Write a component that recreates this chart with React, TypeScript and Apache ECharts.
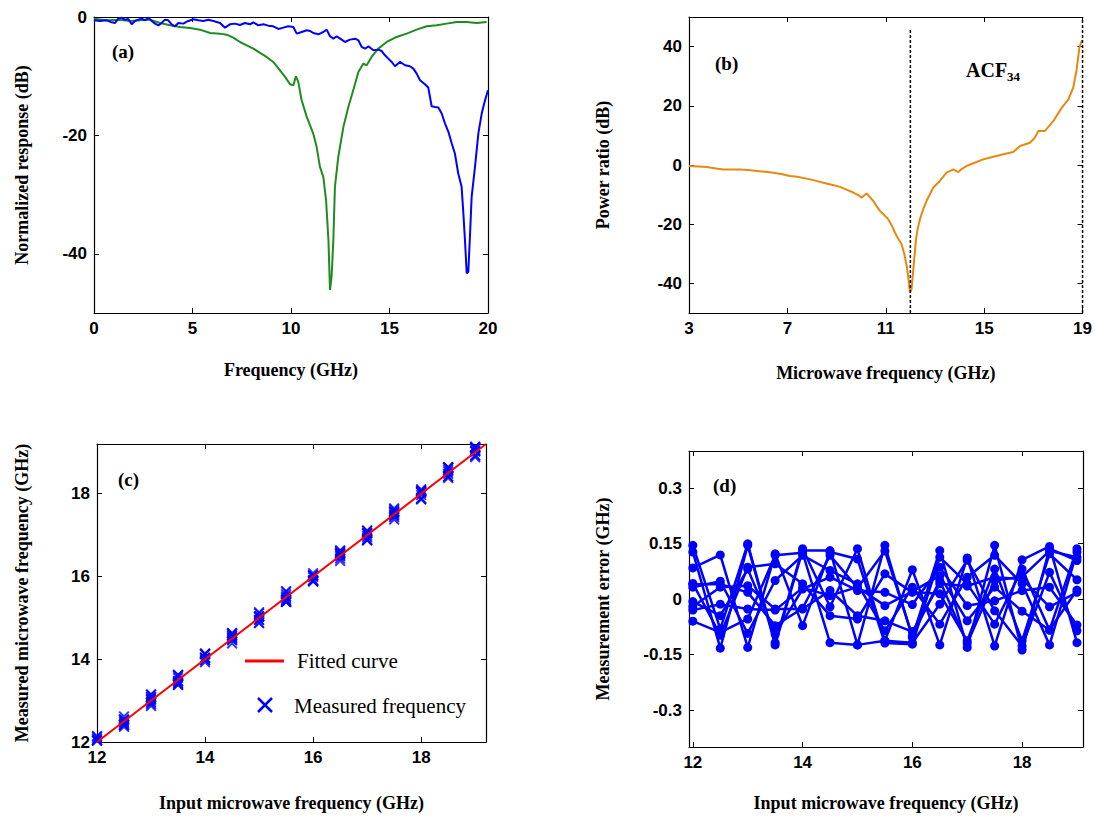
import React, { useEffect, useRef } from "react";
import * as echarts from "echarts";

// ---------- Panel (a): normalized response ----------
const greenResponse: [number, number][] = [
  [0, -0.28], [0.64, -0.56], [1.32, -0.45], [1.83, -0.67], [2.34, -0.56], [2.84, -0.45], [3.35, -1.01],
  [3.86, -1.41], [4.37, -1.69], [4.87, -1.86], [5.38, -2.14], [5.89, -2.7], [6.4, -2.81], [6.73, -2.98],
  [7.07, -3.49], [7.41, -4.22], [7.75, -4.78], [8.09, -5.34], [8.43, -6.07], [8.76, -6.75], [9.1, -7.59],
  [9.44, -9.0], [9.7, -10.12], [9.95, -11.36], [10.12, -11.53], [10.25, -10.01], [10.37, -10.97],
  [10.54, -14.06], [10.8, -16.87], [11.13, -19.69], [11.3, -21.93], [11.47, -25.31], [11.64, -27.0],
  [11.78, -30.93], [11.9, -37.68], [11.98, -46.12], [12.06, -43.87], [12.15, -37.68], [12.23, -28.68],
  [12.4, -23.62], [12.66, -18.56], [12.91, -15.19], [13.16, -12.37], [13.42, -9.28], [13.67, -7.87],
  [13.84, -8.16], [14.09, -6.75], [14.43, -5.34], [14.86, -4.22], [15.36, -3.37], [15.87, -2.81],
  [16.38, -2.14], [16.89, -1.57], [17.39, -1.41], [17.9, -1.12], [18.41, -0.84], [18.92, -0.84],
  [19.42, -1.01], [19.93, -0.84],
];

const blueResponse: [number, number][] = [
  [0, -0.56], [0.3, -0.67], [0.64, -0.56], [0.9, -0.9], [1.07, -1.01], [1.24, -0.28], [1.4, -0.11],
  [1.57, -0.45], [1.74, -0.34], [1.91, -1.24], [2.08, -0.67], [2.25, -0.45], [2.42, -0.28], [2.59, -0.56],
  [2.76, -0.11], [2.93, -0.67], [3.1, -1.12], [3.27, -1.41], [3.43, -1.01], [3.6, -0.45], [3.77, -0.56],
  [3.94, -1.24], [4.11, -1.57], [4.28, -1.01], [4.53, -1.12], [4.79, -0.67], [5.04, -0.39], [5.3, -0.56],
  [5.55, -0.67], [5.8, -0.45], [6.06, -0.67], [6.4, -1.01], [6.65, -1.8], [6.9, -1.24], [7.16, -1.12],
  [7.41, -1.35], [7.66, -1.01], [7.92, -1.24], [8.09, -0.9], [8.34, -1.41], [8.6, -1.24], [8.85, -1.46],
  [9.1, -1.57], [9.36, -2.02], [9.61, -1.8], [9.86, -1.57], [10.12, -1.69], [10.29, -2.81], [10.54, -2.53],
  [10.8, -2.25], [10.96, -2.36], [11.13, -2.7], [11.39, -2.92], [11.64, -2.53], [11.81, -2.14],
  [11.98, -3.26], [12.15, -3.66], [12.32, -3.26], [12.57, -3.82], [12.74, -4.22], [12.99, -3.82],
  [13.25, -3.66], [13.42, -3.94], [13.59, -5.06], [13.76, -5.34], [13.93, -4.95], [14.18, -5.62],
  [14.43, -5.51], [14.6, -5.74], [14.77, -6.47], [14.94, -7.03], [15.11, -7.59], [15.28, -8.32],
  [15.53, -7.59], [15.79, -8.15], [16.04, -8.32], [16.21, -8.72], [16.38, -9.56], [16.55, -10.69],
  [16.8, -11.36], [16.97, -11.92], [17.14, -15.07], [17.31, -15.19], [17.48, -15.3], [17.65, -16.31],
  [17.82, -18.0], [17.99, -19.4], [18.16, -21.37], [18.32, -23.06], [18.49, -26.43], [18.66, -28.68],
  [18.75, -33.18], [18.83, -37.68], [18.92, -43.31], [19.0, -43.03], [19.09, -36.56], [19.17, -30.37],
  [19.34, -25.31], [19.51, -19.69], [19.68, -16.31], [19.85, -14.06], [20.0, -12.37],
];

// ---------- Panel (b): power ratio ----------
const powerRatio: [number, number][] = [
  [3, -0.3], [3.4, -0.5], [3.72, -0.7], [4.1, -1.2], [4.4, -1.5], [4.8, -1.5], [5.07, -1.5], [5.4, -1.7],
  [5.75, -2.0], [6.1, -2.3], [6.43, -2.6], [6.8, -3.1], [7.1, -3.7], [7.4, -4.0], [7.78, -4.6], [8.1, -5.2],
  [8.46, -6.0], [8.8, -6.7], [9.14, -7.4], [9.4, -8.3], [9.68, -9.3], [9.9, -10.3], [10.02, -11.0],
  [10.22, -9.6], [10.35, -10.8], [10.49, -12.1], [10.62, -13.8], [10.76, -15.5], [10.95, -17.0], [11.1, -18.3],
  [11.25, -20.5], [11.37, -22.8], [11.5, -24.8], [11.64, -26.7], [11.75, -30], [11.85, -34], [11.93, -39],
  [11.98, -43], [12.05, -41.9], [12.12, -35.2], [12.23, -25.1], [12.3, -21.5], [12.39, -18.3], [12.52, -15.0],
  [12.66, -12.1], [12.8, -9.8], [12.93, -7.6], [13.2, -5.4], [13.47, -2.6], [13.75, -1.5], [13.95, -2.4],
  [14.1, -1.3], [14.29, -0.3], [14.56, 0.6], [14.96, 1.9], [15.37, 2.8], [15.78, 3.6], [16.18, 4.4],
  [16.46, 6.4], [16.86, 7.5], [17.06, 9.2], [17.2, 11.5], [17.47, 11.5], [17.81, 14.8], [18.15, 19.3],
  [18.42, 22.1], [18.62, 26.1], [18.76, 32.2], [18.87, 39.6], [18.96, 41.8], [19.0, 42.1],
];
const acfMarkerFreqs = [12, 19];
const acfMarkerTops = [46, 50];

// ---------- Panels (c) & (d): measurement ----------
const inputFreqs = [12, 12.5, 13, 13.5, 14, 14.5, 15, 15.5, 16, 16.5, 17, 17.5, 18, 18.5, 19];
const errorRuns: number[][] = [
  [0.145, -0.081, 0.149, -0.118, 0.136, -0.021, 0.136, -0.113, 0.079, -0.124, 0.111, -0.127, 0.106, 0.142, -0.118],
  [0.127, -0.133, 0.145, -0.124, 0.131, 0.131, -0.124, 0.145, -0.104, 0.131, -0.131, 0.145, -0.138, 0.136, 0.104],
  [0.084, 0.119, -0.131, 0.122, -0.072, 0.127, 0.108, -0.119, -0.122, 0.113, 0.041, -0.068, 0.081, -0.084, 0.136],
  [0.042, -0.098, 0.086, 0.095, 0.041, -0.045, -0.054, 0.068, 0.018, 0.014, -0.113, 0.081, -0.113, 0.122, 0.052],
  [0.032, 0.048, -0.093, 0.05, 0.118, 0.077, 0.041, -0.086, 0.032, -0.068, 0.059, 0.118, 0.041, -0.124, 0.127],
  [-0.007, -0.045, 0.081, -0.095, 0.027, 0.059, 0.023, 0.018, -0.015, 0.086, -0.018, -0.005, 0.023, 0.032, -0.07],
  [-0.02, 0.032, 0.036, -0.027, -0.027, 0.023, -0.045, -0.059, -0.088, 0.041, 0.035, 0.059, 0.054, -0.021, 0.018],
  [-0.03, -0.014, -0.027, -0.03, 0.03, 0.009, 0.032, -0.018, 0.02, 0.063, -0.059, 0.032, -0.033, -0.084, 0.024],
  [-0.06, -0.09, -0.054, 0.118, 0.125, -0.118, -0.124, -0.113, -0.118, -0.014, 0.105, -0.032, -0.127, 0.072, -0.086],
  [0.04, 0.04, 0.018, -0.072, -0.025, 0.118, 0.03, 0.13, -0.1, 0.05, -0.12, 0.05, 0.06, 0.13, 0.113],
];
const fittedCurve: [number, number][] = [[12, 12], [19.2, 19.2]];

// ---------- Tick values ----------
const ticksAx = [0, 5, 10, 15, 20];
const ticksAy = [-40, -20, 0];
const ticksBx = [3, 7, 11, 15, 19];
const ticksBy = [-40, -20, 0, 20, 40];
const ticksCx = [12, 14, 16, 18];
const ticksCy = [12, 14, 16, 18];
const ticksDx = [12, 14, 16, 18];
const ticksDy = [-0.3, -0.15, 0, 0.15, 0.3];

const TICK_FONT = {
  fontFamily: "'Liberation Sans', Arial, sans-serif",
  fontWeight: "bold" as const,
  fontSize: 17,
  color: "#000",
};
const TITLE_FONT = {
  fontFamily: "'Liberation Serif', 'Times New Roman', serif",
  fontWeight: "bold" as const,
  fontSize: 18,
  color: "#000",
};
const SERIF = "'Liberation Serif', 'Times New Roman', serif";

function axis(
  kind: "x" | "y",
  gridIndex: number,
  min: number,
  max: number,
  ticks: number[],
  primary: boolean,
  name?: string,
  nameGap?: number,
  showLine = true
) {
  const position = kind === "x" ? (primary ? "bottom" : "top") : primary ? "left" : "right";
  return {
    type: "value",
    gridIndex,
    position,
    min,
    max,
    axisLine: { show: showLine, onZero: false, lineStyle: { color: "#000", width: 1.2 } },
    axisTick: {
      show: true,
      inside: true,
      length: 5,
      customValues: ticks,
      lineStyle: { color: "#000", width: 1 },
    },
    axisLabel: primary
      ? { show: true, customValues: ticks, margin: 7, ...TICK_FONT }
      : { show: false },
    splitLine: { show: false },
    name: primary ? name : undefined,
    nameLocation: "middle",
    nameGap,
    nameTextStyle: TITLE_FONT,
  };
}

export default function App() {
  const ref = useRef<HTMLDivElement>(null);

  useEffect(() => {
    if (!ref.current) return;
    const chart = echarts.init(ref.current, undefined, { renderer: "svg" });

    const scatterPoints: [number, number][] = [];
    errorRuns.forEach((run) =>
      run.forEach((e, i) => scatterPoints.push([inputFreqs[i], inputFreqs[i] + e]))
    );

    const xSymbol =
      "path://M0,1.2 L1.2,0 L5,3.8 L8.8,0 L10,1.2 L6.2,5 L10,8.8 L8.8,10 L5,6.2 L1.2,10 L0,8.8 L3.8,5 Z";

    const option: any = {
      animation: false,
      backgroundColor: "#fff",
      grid: [
        { left: 94, top: 17, width: 394, height: 296 },
        { left: 689, top: 17, width: 394, height: 296 },
        { left: 97, top: 444, width: 389, height: 298 },
        { left: 689, top: 451, width: 394, height: 296 },
      ],
      xAxis: [
        axis("x", 0, 0, 20, ticksAx, true, "Frequency (GHz)", 48),
        axis("x", 0, 0, 20, ticksAx, false),
        axis("x", 1, 3, 19, ticksBx, true, "Microwave frequency (GHz)", 51),
        axis("x", 1, 3, 19, ticksBx, false),
        axis("x", 2, 12, 19.2, ticksCx, true, "Input microwave frequency (GHz)", 52),
        axis("x", 2, 12, 19.2, ticksCx, false),
        axis("x", 3, 11.93, 19.11, ticksDx, true, "Input microwave frequency (GHz)", 47),
        axis("x", 3, 11.93, 19.11, ticksDx, false),
      ],
      yAxis: [
        axis("y", 0, -50, 0, ticksAy, true, "Normalized response (dB)", 63),
        axis("y", 0, -50, 0, ticksAy, false),
        axis("y", 1, -50, 50, ticksBy, true, "Power ratio (dB)", 77),
        axis("y", 1, -50, 50, ticksBy, false, undefined, undefined, false),
        axis("y", 2, 12, 19.2, ticksCy, true, "Measured microwave frequency (GHz)", 66),
        axis("y", 2, 12, 19.2, ticksCy, false),
        axis("y", 3, -0.4, 0.4, ticksDy, true, "Measurement error (GHz)", 77),
        axis("y", 3, -0.4, 0.4, ticksDy, false),
      ],
      series: [
        {
          type: "line",
          xAxisIndex: 0,
          yAxisIndex: 0,
          data: greenResponse,
          showSymbol: false,
          symbol: "none",
          lineStyle: { color: "#1E8C1E", width: 2 },
        },
        {
          type: "line",
          xAxisIndex: 0,
          yAxisIndex: 0,
          data: blueResponse,
          showSymbol: false,
          symbol: "none",
          lineStyle: { color: "#0000FF", width: 2 },
        },
        {
          type: "line",
          xAxisIndex: 2,
          yAxisIndex: 2,
          data: powerRatio,
          showSymbol: false,
          symbol: "none",
          lineStyle: { color: "#E8880F", width: 2 },
        },
        ...acfMarkerFreqs.map((f, i) => ({
          type: "line",
          xAxisIndex: 2,
          yAxisIndex: 2,
          data: [
            [f, -50],
            [f, acfMarkerTops[i]],
          ],
          showSymbol: false,
          symbol: "none",
          lineStyle: { color: "#000", width: 1.5, type: [3, 2] },
        })),
        {
          type: "line",
          xAxisIndex: 4,
          yAxisIndex: 4,
          data: fittedCurve,
          showSymbol: false,
          symbol: "none",
          lineStyle: { color: "#FF0000", width: 2 },
          z: 3,
        },
        {
          type: "scatter",
          xAxisIndex: 4,
          yAxisIndex: 4,
          data: scatterPoints,
          symbol: xSymbol,
          symbolSize: 11,
          itemStyle: { color: "#0000FF" },
          z: 2,
        },
        ...errorRuns.map((run) => ({
          type: "line",
          xAxisIndex: 6,
          yAxisIndex: 6,
          data: run.map((e, i) => [inputFreqs[i], e]),
          symbol: "circle",
          symbolSize: 9,
          showSymbol: true,
          itemStyle: { color: "#0000FF" },
          lineStyle: { color: "#0000FF", width: 2.5 },
        })),
      ],
      graphic: [
        {
          type: "text",
          x: 112,
          y: 51,
          style: { text: "(a)", font: `bold 19px ${SERIF}`, fill: "#000", verticalAlign: "middle" },
        },
        {
          type: "text",
          x: 715,
          y: 63,
          style: { text: "(b)", font: `bold 19px ${SERIF}`, fill: "#000", verticalAlign: "middle" },
        },
        {
          type: "text",
          x: 118,
          y: 479,
          style: { text: "(c)", font: `bold 19px ${SERIF}`, fill: "#000", verticalAlign: "middle" },
        },
        {
          type: "text",
          x: 713,
          y: 485,
          style: { text: "(d)", font: `bold 19px ${SERIF}`, fill: "#000", verticalAlign: "middle" },
        },
        {
          type: "text",
          x: 966,
          y: 70,
          style: { text: "ACF", font: `bold 20px ${SERIF}`, fill: "#000", verticalAlign: "middle" },
        },
        {
          type: "text",
          x: 1007,
          y: 76,
          style: { text: "34", font: `bold 13px ${SERIF}`, fill: "#000", verticalAlign: "middle" },
        },
        {
          type: "line",
          shape: { x1: 245, y1: 661, x2: 284, y2: 661 },
          style: { stroke: "#FF0000", lineWidth: 3 },
        },
        {
          type: "text",
          x: 297,
          y: 661,
          style: { text: "Fitted curve", font: `21px ${SERIF}`, fill: "#000", verticalAlign: "middle" },
        },
        {
          type: "line",
          shape: { x1: 258, y1: 698, x2: 272, y2: 712 },
          style: { stroke: "#0000FF", lineWidth: 2.5 },
        },
        {
          type: "line",
          shape: { x1: 272, y1: 698, x2: 258, y2: 712 },
          style: { stroke: "#0000FF", lineWidth: 2.5 },
        },
        {
          type: "text",
          x: 294,
          y: 706,
          style: { text: "Measured frequency", font: `21px ${SERIF}`, fill: "#000", verticalAlign: "middle" },
        },
      ],
    };

    chart.setOption(option);
    return () => chart.dispose();
  }, []);

  return (
    <div
      ref={ref}
      style={{ position: "fixed", left: 0, top: 0, width: 1095, height: 817, background: "#fff" }}
    />
  );
}
